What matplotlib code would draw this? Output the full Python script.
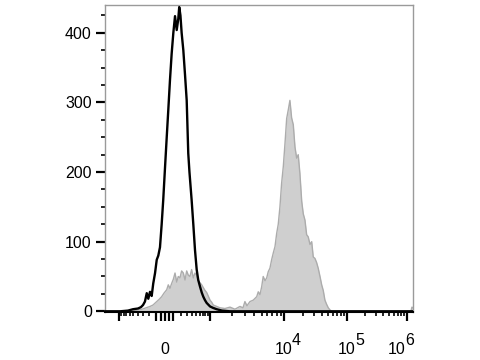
import numpy as np
import matplotlib
matplotlib.use("Agg")
import matplotlib.pyplot as plt
from matplotlib.ticker import FixedLocator, FixedFormatter, MultipleLocator
from matplotlib.transforms import ScaledTranslation, blended_transform_factory

plt.rcParams['font.family'] = ['Liberation Sans', 'DejaVu Sans']

# ---- data: 256-channel biexponential display, event counts ----
control_channel = [0, 12.5, 19.1, 23.3, 27.4, 29.9, 31.6, 33.2, 34.7, 36.0, 37.4, 38.8,
                   40.1, 41.6, 43.0, 44.3, 45.7, 47.1, 48.4, 49.9, 51.3, 52.6, 54.0, 55.4,
                   56.8, 58.2, 59.6, 60.9, 61.7, 62.7, 63.7, 65.1, 66.5, 67.9, 69.2, 70.2,
                   72.0, 73.4, 74.8, 76.2, 77.5, 78.9, 80.4, 81.7, 83.1, 84.5, 87.3, 89.7,
                   92.8, 97.2, 103.9, 256]
control_count = [0, 0, 1, 3, 4, 6, 9, 14, 26, 18, 28, 22,
                 40, 55, 74, 80, 92, 125, 160, 207, 250, 289, 332, 370,
                 400, 424, 404, 420, 437, 425, 400, 375, 340, 303, 227, 200,
                 160, 125, 88, 60, 45, 36, 27, 21, 16, 12, 7, 5,
                 3, 1, 0, 0]

stained_channel = [0, 16.6, 24.9, 30.7, 34.1, 37.4, 39.9, 43.0, 44.9, 47.1, 49.0, 51.3,
                   52.6, 54.0, 55.4, 56.8, 58.2, 59.6, 60.9, 62.3, 63.7, 65.1, 66.5, 67.9,
                   69.2, 70.6, 72.0, 73.4, 74.8, 76.2, 77.5, 78.9, 80.4, 81.7, 83.1, 84.5,
                   85.8, 87.3, 88.7, 90.0, 92.8, 95.6, 99.7, 103.9, 108.0, 112.2, 114.7, 116.3,
                   118.0, 120.5, 123.2, 126.1, 127.4, 128.8, 130.2, 131.5, 133.0, 134.4, 135.7, 137.1,
                   138.5, 139.9, 141.3, 142.7, 144.0, 145.4, 146.8, 148.2, 149.6, 151.0, 152.3, 153.7,
                   155.1, 156.5, 157.9, 159.3, 160.6, 162.0, 163.5, 164.8, 166.2, 167.6, 168.9, 170.4,
                   171.8, 173.1, 174.5, 175.9, 177.2, 178.7, 180.1, 181.4, 182.8, 184.2, 185.6, 187.0,
                   188.6, 253.5, 254.3, 255.1, 256]
stained_count = [0, 0, 1, 3, 5, 7, 9, 14, 17, 21, 26, 31,
                 38, 33, 40, 46, 55, 42, 50, 48, 58, 55, 45, 58,
                 52, 50, 60, 48, 55, 52, 44, 41, 38, 34, 30, 27,
                 22, 16, 13, 9, 7, 5, 4, 6, 3, 7, 5, 14,
                 8, 14, 16, 21, 28, 24, 35, 50, 44, 48, 57, 62,
                 74, 84, 93, 112, 125, 150, 184, 208, 241, 277, 289, 303,
                 278, 268, 236, 220, 225, 198, 158, 140, 131, 110, 107, 96,
                 100, 78, 76, 70, 62, 50, 38, 30, 16, 10, 5, 2,
                 0, 0, 0, 6, 5]

# ---- axis configuration: intensity decades -> display channel ----
decade_values = [-1e4, -1e3, 0, 1e3, 1e4, 1e5, 1e6, 1e7]
decade_channels = [-49.9, 11.6, 49.9, 87.3, 148.7, 201.1, 251.0, 300.8]
LIN_WIDTH = 250.0

def to_channel(v):
    u = np.arcsinh(np.asarray(v, dtype=float) / LIN_WIDTH)
    ua = np.arcsinh(np.asarray(decade_values, dtype=float) / LIN_WIDTH)
    return np.interp(u, ua, decade_channels)

major_values = [-1000, -100, -50, 0, 50, 100, 1000, 1e4, 1e5, 1e6]
major_labels = ['', '', '', '0', '', '', '', '10', '10', '10']
exponents = {1e4: '4', 1e5: '5', 1e6: '6'}
minor_values = ([-v for v in range(200, 1000, 100)] + list(range(200, 1000, 100)) +
                [m * 10 ** e for e in (3, 4, 5) for m in range(2, 10)])

fig = plt.figure(figsize=(4.8, 3.6), dpi=100)
ax = fig.add_axes([105 / 480, 1 - 312 / 360, 308 / 480, 307 / 360])

ax.fill_between(stained_channel, stained_count, 0, color='#cfcfcf', lw=0, zorder=1)
ax.plot(stained_channel, stained_count, color='#acacac', lw=1.0, zorder=2)
ax.plot(control_channel, control_count, color='black', lw=1.7, zorder=3)

ax.set_xlim(0, 256)
ax.set_ylim(-1, 440)

for side in ('left', 'top', 'right'):
    ax.spines[side].set_color('#9a9a9a')
    ax.spines[side].set_linewidth(1.0)
ax.spines['bottom'].set_color('black')
ax.spines['bottom'].set_linewidth(1.5)

ax.yaxis.set_major_locator(MultipleLocator(100))
ax.yaxis.set_minor_locator(MultipleLocator(25))
ax.xaxis.set_major_locator(FixedLocator(to_channel(major_values)))
ax.xaxis.set_major_formatter(FixedFormatter(major_labels))
ax.xaxis.set_minor_locator(FixedLocator(to_channel(minor_values)))

ax.tick_params(axis='both', which='major', direction='out', length=6.5, width=1.6,
               color='black', labelsize=11.5, labelcolor='black')
ax.tick_params(axis='both', which='minor', direction='out', length=3.2, width=1.2, color='black')
ax.tick_params(axis='y', which='major', pad=3)
ax.tick_params(axis='x', which='major', pad=24)

fig.canvas.draw()
xlabels = ax.get_xticklabels()
for lab in xlabels:
    lab.set_va('baseline')
xlabels[-1].set_transform(xlabels[-1].get_transform() +
                          ScaledTranslation(-0.10, 0, fig.dpi_scale_trans))

trans = blended_transform_factory(ax.transData, ax.transAxes)
for v, e in exponents.items():
    dx = -1.5 if v == 1e6 else 5.8
    ax.annotate(e, xy=(float(to_channel(v)), 0), xycoords=trans,
                xytext=(dx, -23.8), textcoords='offset points',
                ha='left', va='baseline', fontsize=11.5, color='black',
                annotation_clip=False)

fig.savefig('out.png', dpi=100)
